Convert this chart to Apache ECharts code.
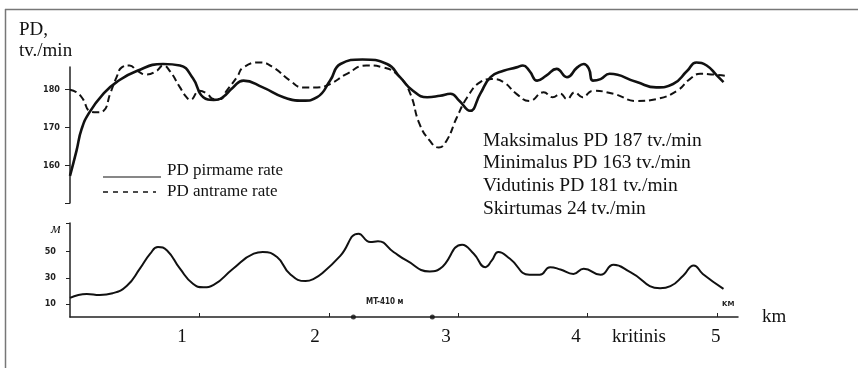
<!DOCTYPE html>
<html><head><meta charset="utf-8">
<script src="https://cdn.jsdelivr.net/npm/echarts@6/dist/echarts.min.js"></script>
<style>html,body{margin:0;padding:0;background:#fff}#c{width:858px;height:368px}</style>
</head><body><div id="c"></div>
<script>
// ---- data (distance in km) ----
const solidKm = [0,0.05,0.09,0.15,0.26,0.36,0.52,0.72,0.85,0.95,1.03,1.11,1.18,1.26,1.34,1.49,1.65,1.80,1.91,2.01,2.09,2.26,2.45,2.55,2.65,2.76,2.86,2.94,3.01,3.09,3.17,3.25,3.35,3.45,3.50,3.55,3.61,3.68,3.76,3.84,3.92,3.97,4.01,4.04,4.10,4.17,4.38,4.53,4.66,4.77,4.84,4.92,5.00,5.05];
const pdFirst = [157.2,163.8,169.6,174,179,182,185,186.8,186.4,183,178,177.3,178,180.6,182.4,180.6,178,177.1,178,182.4,186.8,188,186.8,183.3,179.7,178,178.4,178.9,177,174.4,178.9,183.3,185,185.9,186.4,185,182.4,183.7,185.5,183.3,185.9,186.8,185.5,182.4,182.8,184.2,182,180.6,181.5,185,187.2,186.4,183.7,182];
const dashKm = [0,0.05,0.10,0.15,0.21,0.26,0.31,0.36,0.40,0.46,0.52,0.59,0.67,0.72,0.77,0.85,0.90,0.93,1.00,1.06,1.11,1.16,1.21,1.29,1.34,1.47,1.57,1.70,1.80,1.91,2.01,2.14,2.29,2.42,2.55,2.63,2.70,2.78,2.85,2.91,2.99,3.07,3.17,3.26,3.35,3.45,3.55,3.66,3.73,3.79,3.84,3.90,3.96,4.04,4.20,4.38,4.53,4.69,4.79,4.87,4.97,5.06];
const pdSecond = [180,179.3,177.5,174.4,174,174.4,178.9,183.3,185.9,186.4,185,184,185,186.4,185,180.6,178,177.3,179.7,178.9,177.5,177.5,179.7,183.3,185.9,187.2,185.9,182.4,180.6,180.6,181.5,184.2,186.4,185.9,183.3,178.9,171,166.5,164.7,166.5,172.7,178,182,182.8,182,178.9,177,179.3,178,178.9,177.5,179.3,178,179.7,178.9,177,177.5,179.7,182.8,184.2,184,183.7];
const reliefKm = [0,0.13,0.23,0.33,0.44,0.54,0.62,0.68,0.75,0.85,0.95,1.03,1.11,1.26,1.42,1.49,1.60,1.70,1.82,1.88,1.96,2.09,2.23,2.32,2.38,2.50,2.60,2.78,2.86,3.03,3.12,3.21,3.26,3.31,3.40,3.55,3.63,3.71,3.79,3.89,3.97,4.10,4.20,4.33,4.56,4.64,4.74,4.82,4.89,5.05];
const reliefM = [14.6,17.7,16.9,18.2,24,37,48.5,53.6,51,37,25.4,22.8,24.6,37,48.5,49.8,45.9,33,27.5,29,34.4,47,63.8,57.4,58,49.8,43.3,34.9,37,55.4,48.5,38.2,43.3,49.8,44.6,32.3,32.3,38.2,36.4,33,37,32.3,40,34.4,22,23.6,31.8,39.5,33,21.5];
const markerKm = [2.19, 2.80];
const kmTicks = [1,2,3,4,5];
const kmLabelPos = [0.866,1.893,2.906,3.91,4.397,4.99];
const kmLabels = ['1','2','3','4','kritinis','5'];
const pdTicks = [150,160,170,180];
const pdLabels = [160,170,180];
const reliefTicks = [10,30,50,72];
const reliefLabels = [10,30,50];
const legendNames = ['PD pirmame rate','PD antrame rate'];
const statLines = ['Maksimalus PD 187 tv./min','Minimalus PD 163 tv./min','Vidutinis PD 181 tv./min','Skirtumas 24 tv./min'];

const XMAX = 5.162;
const zip = (a,b) => a.map((v,i)=>[v,b[i]]);
const serif = 'Liberation Serif, Times New Roman, serif';
const small = {fontSize:9,fontWeight:'bold',fontFamily:'DejaVu Sans Condensed, Liberation Sans, sans-serif',color:'#222'};

const chart = echarts.init(document.getElementById('c'));
const graphic = [
  {type:'line',shape:{x1:5,y1:9.5,x2:858,y2:9.5},style:{stroke:'#777',lineWidth:1.5}},
  {type:'line',shape:{x1:5.5,y1:9,x2:5.5,y2:368},style:{stroke:'#777',lineWidth:1.5}},
  {type:'text',x:19,y:30,style:{text:'PD,',font:'19px '+serif,fill:'#111',verticalAlign:'middle'}},
  {type:'text',x:19,y:51,style:{text:'tv./min',font:'19px '+serif,fill:'#111',verticalAlign:'middle'}},
  {type:'line',shape:{x1:103,y1:177,x2:161,y2:177},style:{stroke:'#111',lineWidth:1.2}},
  {type:'line',shape:{x1:103,y1:192,x2:156,y2:192},style:{stroke:'#111',lineWidth:1.5,lineDash:[5,5]}},
  {type:'text',x:167,y:170.5,style:{text:legendNames[0],font:'17px '+serif,fill:'#111',verticalAlign:'middle'}},
  {type:'text',x:167,y:192,style:{text:legendNames[1],font:'17px '+serif,fill:'#111',verticalAlign:'middle'}},
  {type:'text',x:51,y:229,style:{text:'м',font:'italic 15px '+serif,fill:'#111',verticalAlign:'middle'}},
  {type:'text',x:366,y:302,style:{text:'MT-410 м',font:'bold 8px DejaVu Sans Condensed, sans-serif',fill:'#222',verticalAlign:'middle'}},
  {type:'text',x:722,y:304,style:{text:'KM',font:'bold 7px DejaVu Sans, sans-serif',fill:'#222',verticalAlign:'middle'}}
];
statLines.forEach((t,i)=>graphic.push({type:'text',x:483,y:140.5+i*22.7,style:{text:t,font:'19.5px '+serif,fill:'#111',verticalAlign:'middle'}}));

chart.setOption({
  animation:false,
  backgroundColor:'#fff',
  grid:[
    {left:70,right:120,top:67,height:136},
    {left:70,right:120,top:223,height:94}
  ],
  xAxis:[
    {gridIndex:0,type:'value',min:0,max:XMAX,show:false},
    {gridIndex:1,type:'value',min:0,max:XMAX,
      name:'km',nameLocation:'end',nameGap:24,
      nameTextStyle:{fontFamily:serif,fontSize:19,color:'#111',padding:[0,0,16,0],align:'left'},
      axisLine:{lineStyle:{color:'#222',width:1.5}},
      axisTick:{inside:true,length:4,customValues:kmTicks,lineStyle:{color:'#222'}},
      axisLabel:{show:false},splitLine:{show:false}},
    {gridIndex:1,type:'value',min:0,max:XMAX,position:'bottom',
      axisLine:{show:false},axisTick:{show:false},splitLine:{show:false},
      axisLabel:{customValues:kmLabelPos,margin:11,fontFamily:serif,fontSize:19,color:'#111',
        formatter:v=>{const i=kmLabelPos.indexOf(v);return i>=0?kmLabels[i]:'';}}}
  ],
  yAxis:[
    {gridIndex:0,type:'value',min:150,max:186,
      axisLine:{show:true,lineStyle:{color:'#222',width:1.5}},
      axisTick:{show:true,length:5,customValues:pdTicks,lineStyle:{color:'#222'}},
      axisLabel:Object.assign({customValues:pdLabels,margin:10},small),
      splitLine:{show:false}},
    {gridIndex:1,type:'value',min:0,max:72,
      axisLine:{show:true,lineStyle:{color:'#222',width:1.5}},
      axisTick:{show:true,length:4,customValues:reliefTicks,lineStyle:{color:'#222'}},
      axisLabel:Object.assign({customValues:reliefLabels,margin:14},small),
      splitLine:{show:false}}
  ],
  series:[
    {name:legendNames[0],type:'line',xAxisIndex:0,yAxisIndex:0,data:zip(solidKm,pdFirst),smooth:0.5,showSymbol:false,clip:false,
      lineStyle:{color:'#111',width:2.6}},
    {name:legendNames[1],type:'line',xAxisIndex:0,yAxisIndex:0,data:zip(dashKm,pdSecond),smooth:0.5,showSymbol:false,clip:false,
      lineStyle:{color:'#111',width:2,type:[7,4]}},
    {name:'reljefas',type:'line',xAxisIndex:1,yAxisIndex:1,data:zip(reliefKm,reliefM),smooth:0.5,showSymbol:false,clip:false,
      lineStyle:{color:'#111',width:2}},
    {name:'MT',type:'scatter',xAxisIndex:1,yAxisIndex:1,data:markerKm.map(k=>[k,0]),symbolSize:5,clip:false,
      itemStyle:{color:'#111'}}
  ],
  graphic:graphic
});
</script></body></html>
